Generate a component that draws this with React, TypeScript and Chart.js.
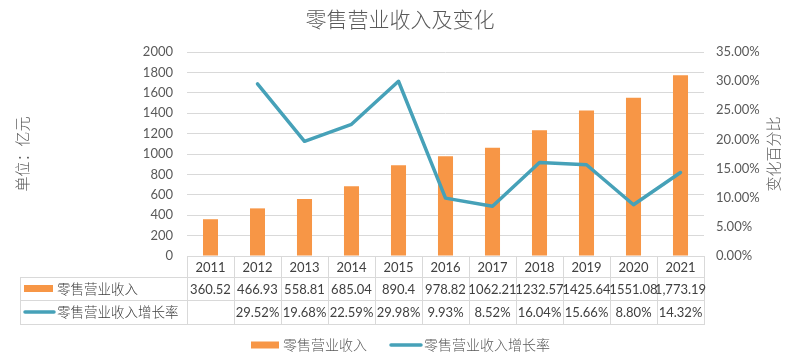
import React, { useEffect, useRef } from "react";
import { Chart, registerables } from "chart.js";

Chart.register(...registerables);

const years = ["2011", "2012", "2013", "2014", "2015", "2016", "2017", "2018", "2019", "2020", "2021"];
const revenue = [360.52, 466.93, 558.81, 685.04, 890.4, 978.82, 1062.21, 1232.57, 1425.64, 1551.08, 1773.19];
const revenueLabels = ["360.52", "466.93", "558.81", "685.04", "890.4", "978.82", "1062.21", "1232.57", "1425.64", "1551.08", "1,773.19"];
const growth = [null, 0.2952, 0.1968, 0.2259, 0.2998, 0.0993, 0.0852, 0.1604, 0.1566, 0.088, 0.1432];
const growthLabels = ["", "29.52%", "19.68%", "22.59%", "29.98%", "9.93%", "8.52%", "16.04%", "15.66%", "8.80%", "14.32%"];

const title = "零售营业收入及变化";
const seriesBar = "零售营业收入";
const seriesLine = "零售营业收入增长率";
const leftTitle = "单位：亿元";
const rightTitle = "变化百分比";

const ORANGE = "#F79646";
const TEAL = "#46A1B8";
const GRID = "#D9D9D9";
const TEXT = "#595959";
const TABLE_TEXT = "#404040";
const CJK = '"Noto Sans CJK SC", sans-serif';
const NUM = 'Lato, "Noto Sans", sans-serif';

const overlay = {
  id: "overlay",
  afterDraw(chart: any) {
    const ctx = chart.ctx as CanvasRenderingContext2D;
    const x = chart.scales.x;
    const area = chart.chartArea;
    const n = years.length;
    const colW = (area.right - area.left) / n;
    const top = area.bottom;
    const r1 = top + 21;
    const r2 = top + 44;
    const r3 = top + 68;
    const tableLeft = 20;
    ctx.save();
    // title
    ctx.fillStyle = TEXT;
    ctx.font = `300 21px ${CJK}`;
    ctx.textAlign = "center";
    ctx.textBaseline = "middle";
    ctx.fillText(title, 400, 19);
    // axis titles
    ctx.font = `300 15px ${CJK}`;
    ctx.save();
    ctx.translate(22, (area.top + area.bottom) / 2);
    ctx.rotate(-Math.PI / 2);
    ctx.fillText(leftTitle, 0, 0);
    ctx.restore();
    ctx.save();
    ctx.translate(773, (area.top + area.bottom) / 2);
    ctx.rotate(-Math.PI / 2);
    ctx.fillText(rightTitle, 0, 0);
    ctx.restore();

    // table lines
    ctx.strokeStyle = GRID;
    ctx.lineWidth = 1;
    ctx.beginPath();
    const hl = (y: number, x0: number) => {
      ctx.moveTo(x0, Math.round(y) + 0.5);
      ctx.lineTo(area.right, Math.round(y) + 0.5);
    };
    hl(top, area.left);
    hl(r1, tableLeft);
    hl(r2, tableLeft);
    hl(r3, tableLeft);
    ctx.moveTo(tableLeft + 0.5, Math.round(r1));
    ctx.lineTo(tableLeft + 0.5, Math.round(r3) + 1);
    for (let i = 0; i <= n; i++) {
      const xx = Math.round(area.left + i * colW) + 0.5;
      ctx.moveTo(xx, Math.round(top));
      ctx.lineTo(xx, Math.round(r3) + 1);
    }
    ctx.stroke();

    // table text
    ctx.fillStyle = TABLE_TEXT;
    ctx.font = `13px ${NUM}`;
    ctx.textAlign = "center";
    for (let i = 0; i < n; i++) {
      const cx = x.getPixelForValue(i);
      ctx.fillText(years[i], cx, (top + r1) / 2 + 1);
      ctx.fillText(revenueLabels[i], cx, (r1 + r2) / 2 + 1);
      ctx.fillText(growthLabels[i], cx, (r2 + r3) / 2 + 1);
    }
    // row keys
    ctx.fillStyle = ORANGE;
    ctx.fillRect(24, (r1 + r2) / 2 - 3.5, 29, 7);
    ctx.strokeStyle = TEAL;
    ctx.lineWidth = 3.5;
    ctx.lineCap = "round";
    ctx.beginPath();
    ctx.moveTo(25, (r2 + r3) / 2);
    ctx.lineTo(54, (r2 + r3) / 2);
    ctx.stroke();
    ctx.fillStyle = TABLE_TEXT;
    ctx.font = `300 13.5px ${CJK}`;
    ctx.textAlign = "left";
    ctx.fillText(seriesBar, 57, (r1 + r2) / 2);
    ctx.fillText(seriesLine, 57, (r2 + r3) / 2);

    // legend
    const ly = 345;
    ctx.fillStyle = ORANGE;
    ctx.fillRect(251, ly - 3.5, 28, 7);
    ctx.beginPath();
    ctx.moveTo(391, ly);
    ctx.lineTo(421, ly);
    ctx.stroke();
    ctx.fillStyle = TEXT;
    ctx.font = `300 14px ${CJK}`;
    ctx.fillText(seriesBar, 283, ly);
    ctx.fillText(seriesLine, 424, ly);
    ctx.restore();
  },
};

export default function App() {
  const ref = useRef<HTMLCanvasElement | null>(null);
  useEffect(() => {
    if (!ref.current) return;
    const chart = new Chart(ref.current, {
      type: "bar",
      data: {
        labels: years,
        datasets: [
          {
            type: "line",
            label: seriesLine,
            data: growth as any,
            yAxisID: "y1",
            borderColor: TEAL,
            backgroundColor: TEAL,
            borderWidth: 3.5,
            pointRadius: 0,
            borderJoinStyle: "round",
            borderCapStyle: "round",
            order: 0,
          } as any,
          {
            type: "bar",
            label: seriesBar,
            data: revenue,
            yAxisID: "y",
            backgroundColor: ORANGE,
            categoryPercentage: 1,
            barPercentage: 0.32,
            order: 1,
          },
        ],
      },
      options: {
        animation: false,
        responsive: false,
        maintainAspectRatio: false,
        layout: { padding: { top: 52, left: 0, right: 0, bottom: 0 } },
        plugins: {
          legend: { display: false },
          tooltip: { enabled: false },
          title: { display: false },
        },
        scales: {
          x: {
            grid: { display: false },
            border: { display: false },
            ticks: { display: false },
            afterFit: (s: any) => {
              s.height = 107;
            },
          },
          y: {
            position: "left",
            min: 0,
            max: 2000,
            ticks: {
              stepSize: 200,
              color: TEXT,
              padding: 14,
              font: { family: NUM, size: 13 },
              callback: (v: any) => String(v),
            },
            grid: { color: GRID, drawTicks: false, lineWidth: 1 },
            border: { display: false },
            afterFit: (s: any) => {
              s.width = 187;
            },
          },
          y1: {
            position: "right",
            min: 0,
            max: 0.35,
            ticks: {
              stepSize: 0.05,
              color: TEXT,
              padding: 12,
              font: { family: NUM, size: 13 },
              callback: (v: any) => (Number(v) * 100).toFixed(2) + "%",
            },
            grid: { display: false, drawTicks: false },
            border: { display: false },
            afterFit: (s: any) => {
              s.width = 96;
            },
          },
        },
      },
      plugins: [overlay],
    });
    return () => chart.destroy();
  }, []);
  return (
    <div style={{ position: "fixed", left: 0, top: 0, width: 800, height: 363, background: "#fff" }}>
      <canvas ref={ref} width={800} height={363} style={{ width: 800, height: 363 }} />
    </div>
  );
}
